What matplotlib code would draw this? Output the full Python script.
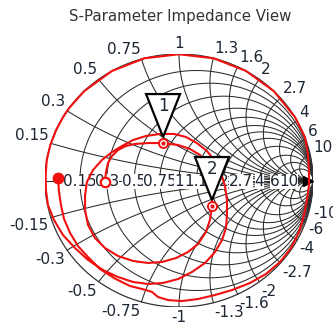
import numpy as np
import matplotlib
matplotlib.use("Agg")
import matplotlib.pyplot as plt
from matplotlib.patches import Polygon

W, H = 333, 326
title = "S-Parameter Impedance View"
grid_values = [0.15, 0.3, 0.5, 0.75, 1, 1.3, 1.6, 2, 2.7, 4, 6, 10]
r_labels = ["0.15", "0.3", "0.5", "0.75", "1", "1.3", "1.6", "2", "2.7", "4", "6", "10"]
x_labels_pos = ["0.15", "0.3", "0.5", "0.75", "1", "1.3", "1.6", "2", "2.7", "4", "6", "10"]
x_labels_neg = ["-0.15", "-0.3", "-0.5", "-0.75", "-1", "-1.3", "-1.6", "-2", "-2.7", "-4", "-6", "-10"]

trace_re = [-0.552, -0.545, -0.530, -0.500, -0.455, -0.396, -0.328, -0.231, -0.119, -0.007, 0.082, 0.157,
            0.201, 0.231, 0.246, 0.246, 0.231, 0.201, 0.142, 0.067, -0.022, -0.127, -0.231, -0.343,
            -0.455, -0.552, -0.627, -0.679, -0.701, -0.701, -0.687, -0.642, -0.575, -0.500, -0.425,
            -0.343, -0.246, -0.142, -0.037, 0.052, 0.134, 0.209, 0.269, 0.313, 0.343, 0.358, 0.358,
            0.351, 0.321, 0.269, 0.194, 0.097, -0.007, -0.119, -0.231, -0.343, -0.455, -0.567,
            -0.679, -0.776, -0.866, -0.933, -0.978, -0.993, -0.995, -0.987, -0.960, -0.917, -0.865,
            -0.819, -0.707, -0.500, -0.259, 0.000, 0.259, 0.500, 0.707, 0.866, 0.940, 0.963, 0.970,
            0.970, 0.955, 0.933, 0.896, 0.836, 0.754, 0.649, 0.530, 0.396, 0.269, 0.142, 0.022,
            -0.082, -0.157, -0.201, -0.246, -0.366, -0.478, -0.590, -0.679, -0.754, -0.813, -0.858,
            -0.881, -0.896, -0.903]
trace_im = [-0.012, 0.067, 0.138, 0.194, 0.241, 0.273, 0.289, 0.296, 0.296, 0.281, 0.249, 0.202,
            0.130, 0.043, -0.075, -0.202, -0.312, -0.407, -0.502, -0.565, -0.613, -0.644, -0.652,
            -0.636, -0.597, -0.534, -0.455, -0.352, -0.233, -0.115, -0.012, 0.083, 0.162, 0.225,
            0.273, 0.320, 0.352, 0.368, 0.368, 0.344, 0.296, 0.233, 0.154, 0.059, -0.043, -0.154,
            -0.273, -0.375, -0.470, -0.565, -0.652, -0.723, -0.779, -0.810, -0.818, -0.802, -0.763,
            -0.708, -0.628, -0.534, -0.431, -0.312, -0.194, -0.075, 0.043, 0.162, 0.281, 0.399,
            0.502, 0.574, 0.707, 0.866, 0.966, 0.998, 0.966, 0.866, 0.707, 0.500, 0.342, 0.202,
            0.083, -0.036, -0.154, -0.273, -0.407, -0.534, -0.644, -0.739, -0.810, -0.866, -0.905,
            -0.937, -0.953, -0.945, -0.921, -0.881, -0.866, -0.834, -0.775, -0.700, -0.605, -0.518,
            -0.415, -0.304, -0.194, -0.083, 0.020]

marker1 = (-0.119, 0.296)
marker2 = (0.246, -0.202)

fig = plt.figure(figsize=(W / 100, H / 100), dpi=100)
ax = fig.add_axes([45 / W, (H - 307) / H, 268 / W, 253 / H])
ax.set_xlim(-1, 1)
ax.set_ylim(-1, 1)
ax.axis("off")

gc = "#2b2b2b"
lw_g = 0.75
t = np.linspace(0, 2 * np.pi, 721)
# resistance circles
for r in grid_values:
    c = r / (1 + r)
    rad = 1 / (1 + r)
    ax.plot(c + rad * np.cos(t), rad * np.sin(t), color=gc, lw=lw_g, zorder=1)
# reactance arcs
rr = np.concatenate([np.linspace(0, 5, 400), np.geomspace(5, 1e4, 400)])
for xv in grid_values:
    for s in (1, -1):
        z = rr + 1j * s * xv
        g = (z - 1) / (z + 1)
        ax.plot(g.real, g.imag, color=gc, lw=lw_g, zorder=1)
# outer circle and axis
ax.plot(np.cos(t), np.sin(t), color="#333333", lw=0.9, zorder=1)
ax.plot([-1, 1], [0, 0], color=gc, lw=lw_g, zorder=1)

tc = "#1c2633"
fs = 11
# real-axis labels
for r, lab in zip(grid_values, r_labels):
    gx = (r - 1) / (r + 1)
    ax.text(gx, -0.01, lab, ha="center", va="center", fontsize=fs, color=tc, zorder=3,
            bbox=dict(boxstyle="square,pad=0.0", fc="white", ec="none"))
# outer labels
for xv, lp, ln in zip(grid_values, x_labels_pos, x_labels_neg):
    for s, lab in ((1, lp), (-1, ln)):
        z = 1j * s * xv
        g = (z - 1) / (z + 1)
        gx, gy = g.real, g.imag
        ha = "left" if gx > 0.12 else ("right" if gx < -0.12 else "center")
        va = "bottom" if gy > 0.12 else ("top" if gy < -0.12 else "center")
        ax.text(gx * 1.02, gy * 1.02, lab, ha=ha, va=va, fontsize=fs, color=tc, zorder=3)

# arrow at right end of axis
ax.plot([0.965], [0.0], marker=">", color="black", ms=7, zorder=4)

# trace
red = "#f01010"
ax.plot(trace_re, trace_im, color=red, lw=1.5, zorder=5, solid_joinstyle="round")
ax.plot([trace_re[-1]], [trace_im[-1]], "o", color=red, ms=7.5, zorder=6)
ax.plot([trace_re[0]], [trace_im[0]], "o", mfc="white", mec=red, mew=1.6, ms=6.8, zorder=6)

# markers
px_per_x = 134.0
px_per_y = 126.5
for (mx, my), lab in ((marker1, "1"), (marker2, "2")):
    ax.plot([mx], [my], "o", mfc="white", mec=red, mew=1.4, ms=6.5, zorder=7)
    ax.plot([mx], [my], "o", color=red, ms=2.0, zorder=8)
    tip = (mx, my + 6 / px_per_y)
    tri = Polygon([tip, (mx - 17 / px_per_x, my + 49 / px_per_y), (mx + 17 / px_per_x, my + 49 / px_per_y)],
                  closed=True, fc="white", ec="black", lw=1.6, zorder=6.5)
    ax.add_patch(tri)
    ax.text(mx, my + 37 / px_per_y, lab, ha="center", va="center", fontsize=fs + 1, color=tc, zorder=8)

fig.text(180 / W, 1 - 17 / H, title, ha="center", va="center", fontsize=10.8, color="#333333")
fig.savefig("out.png", dpi=100)
